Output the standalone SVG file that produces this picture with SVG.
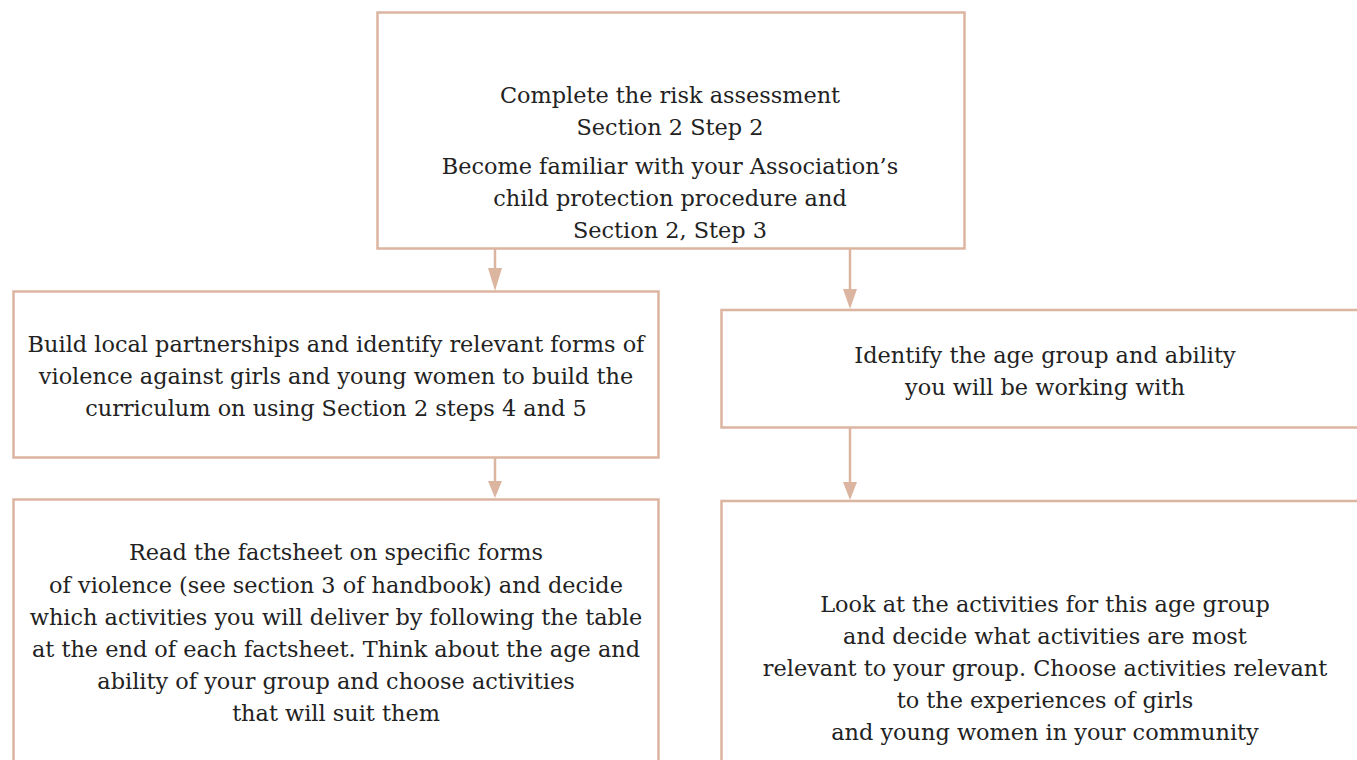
<svg xmlns="http://www.w3.org/2000/svg" width="1357" height="760" viewBox="0 0 1357 760">
<defs>
<style>
.box{fill:#fff;stroke:#dcb5a1;stroke-width:2.5}
.t{font-family:"DejaVu Serif",serif;font-size:22.4px;fill:#222;text-anchor:middle;dominant-baseline:central}
.c{stroke:#dcb5a1;stroke-width:2.5;fill:none}
.ah{fill:#dcb5a1}
</style>
</defs>
<rect width="1357" height="760" fill="#fff"/>
<g id="connectors">
<path class="c" d="M495,249 V268"/>
<path class="ah" d="M488,268 L502,268 L495,291 Z"/>
<path class="c" d="M850,249 V289"/>
<path class="ah" d="M843,289 L857,289 L850,309 Z"/>
<path class="c" d="M495,458 V481"/>
<path class="ah" d="M488,481 L502,481 L495,498 Z"/>
<path class="c" d="M850,428 V482"/>
<path class="ah" d="M843,482 L857,482 L850,500 Z"/>
</g>
<g id="n1">
<rect class="box" x="377.5" y="12.5" width="587" height="236"/>
<text class="t" x="670" y="95">Complete the risk assessment</text>
<text class="t" x="670" y="127">Section 2 Step 2</text>
<text class="t" x="670" y="166">Become familiar with your Association’s</text>
<text class="t" x="670" y="198">child protection procedure and</text>
<text class="t" x="670" y="230">Section 2, Step 3</text>
</g>
<g id="n2">
<rect class="box" x="13.5" y="291.5" width="645" height="166"/>
<text class="t" x="336" y="344">Build local partnerships and identify relevant forms of</text>
<text class="t" x="336" y="376">violence against girls and young women to build the</text>
<text class="t" x="336" y="408">curriculum on using Section 2 steps 4 and 5</text>
</g>
<g id="n3">
<path class="box" d="M1360,310 H721.5 V427.5 H1360"/>
<text class="t" x="1045" y="355">Identify the age group and ability</text>
<text class="t" x="1045" y="387">you will be working with</text>
</g>
<g id="n4">
<path class="box" d="M13.5,765 V499.5 H658.5 V765"/>
<text class="t" x="336" y="552">Read the factsheet on specific forms</text>
<text class="t" x="336" y="585">of violence (see section 3 of handbook) and decide</text>
<text class="t" x="336" y="617">which activities you will deliver by following the table</text>
<text class="t" x="336" y="649">at the end of each factsheet. Think about the age and</text>
<text class="t" x="336" y="681">ability of your group and choose activities</text>
<text class="t" x="336" y="713">that will suit them</text>
</g>
<g id="n5">
<path class="box" d="M1360,501 H721.5 V765"/>
<text class="t" x="1045" y="604">Look at the activities for this age group</text>
<text class="t" x="1045" y="636">and decide what activities are most</text>
<text class="t" x="1045" y="668">relevant to your group. Choose activities relevant</text>
<text class="t" x="1045" y="700">to the experiences of girls</text>
<text class="t" x="1045" y="732">and young women in your community</text>
</g>
</svg>
